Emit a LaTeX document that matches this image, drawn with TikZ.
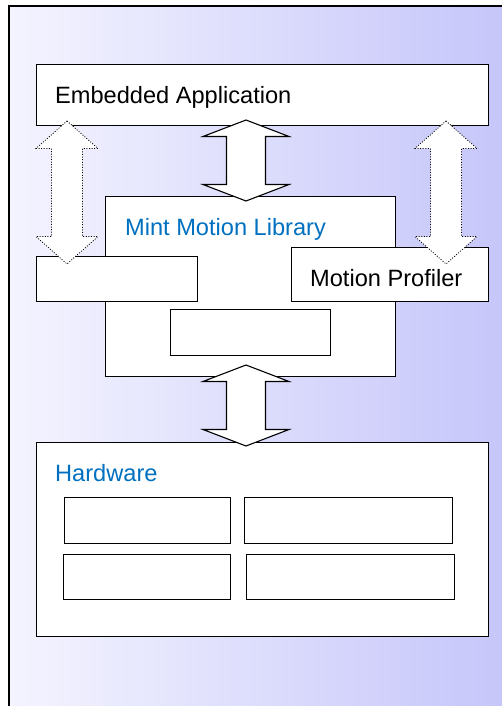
\documentclass[tikz,border=0pt]{standalone}
\usepackage{fontspec}
\setmainfont{Liberation Sans}
\usetikzlibrary{calc}
\definecolor{libblue}{HTML}{0070C0}
\definecolor{bgleft}{HTML}{F4F4FF}
\definecolor{bgright}{HTML}{C6C6FA}
\tikzset{
  box/.style={draw=black, line width=1.2pt, fill=white, anchor=north west, inner sep=0pt},
  txt/.style={anchor=base west, inner sep=0pt, font=\fontsize{23.6}{28}\selectfont},
  solidarrow/.style={draw=black, line width=1.1pt, fill=white, line join=miter},
  dotarrow/.style={draw=black, line width=0.8pt, dash pattern=on 1pt off 1.6pt, fill=white},
}
% #1 style, #2 top tip, #3 bottom tip, #4 half head width, #5 half shaft width, #6 head length
\newcommand\blockdbl[6]{%
  \path[#1] (#2) -- ++(#4,#6) -- ++(-#4+#5,0) -- ($(#3)+(#5,-#6)$) -- ++(#4-#5,0)
    -- (#3) -- ++(-#4,-#6) -- ++(#4-#5,0) -- ($(#2)+(-#5,#6)$) -- ++(-#4+#5,0) -- cycle;}
\begin{document}
\begin{tikzpicture}[x=1pt,y=-1pt]
\useasboundingbox (0,0) rectangle (502,706);
% background
\shade[left color=bgleft, right color=bgright] (9,6) rectangle (502,706);
\draw[line width=1.3pt] (9,712) -- (9,6) -- (510,6);

% boxes
\node[box, minimum width=452pt, minimum height=61pt] (app) at (36,64) {};
\node[box, minimum width=290pt, minimum height=180pt] (mint) at (105,196) {};
\node[box, minimum width=161pt, minimum height=45pt] (lbox) at (36,256) {};
\node[box, minimum width=197pt, minimum height=54pt] (prof) at (291,247) {};
\node[box, minimum width=160pt, minimum height=46pt] (ibox) at (170,309) {};
\node[box, minimum width=452pt, minimum height=194pt] (hw) at (36,442) {};
\node[box, minimum width=166pt, minimum height=46pt] (hw1) at (64,497) {};
\node[box, minimum width=208pt, minimum height=46pt] (hw2) at (244,497) {};
\node[box, minimum width=167pt, minimum height=45pt] (hw3) at (63,554) {};
\node[box, minimum width=208pt, minimum height=45pt] (hw4) at (246,554) {};

% texts
\node[txt] (appt) at (55,103) {Embedded Application};
\node[txt, text=libblue] (mintt) at (125,235) {Mint Motion Library};
\node[txt] (proft) at (310,286) {Motion Profiler};
\node[txt, text=libblue] (hwt) at (55,481) {Hardware};

% arrow end points
\coordinate (c1t) at (246,120);
\coordinate (c1b) at (246,201);
\coordinate (c2t) at (246,365);
\coordinate (c2b) at (246,446);
\coordinate (d1t) at (67,121);
\coordinate (d1b) at (67,264);
\coordinate (d2t) at (446,121);
\coordinate (d2b) at (446,264);

% block arrows
\blockdbl{solidarrow}{c1t}{c1b}{43}{19.5}{16.5}
\blockdbl{solidarrow}{c2t}{c2b}{43}{19.5}{16.5}
\blockdbl{dotarrow}{d1t}{d1b}{31}{15.5}{27.5}
\blockdbl{dotarrow}{d2t}{d2b}{31}{15.5}{27.5}
\end{tikzpicture}
\end{document}
